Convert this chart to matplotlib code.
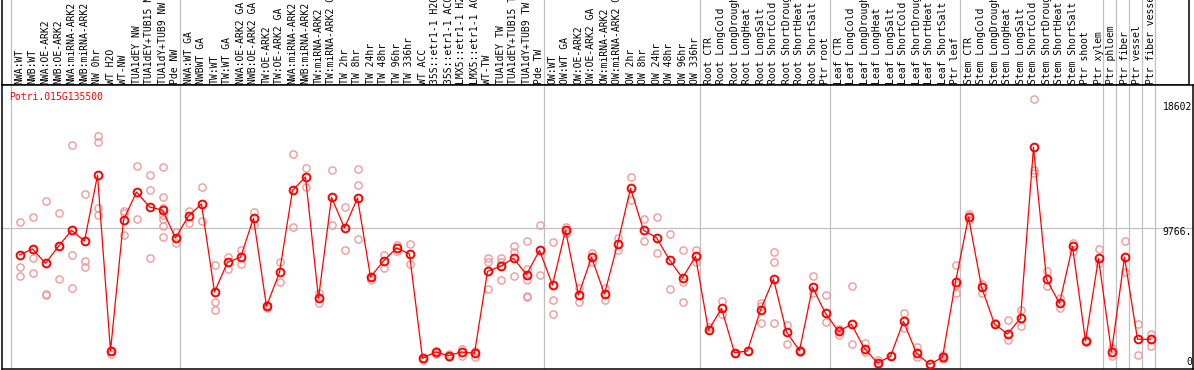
import numpy as np
import matplotlib
matplotlib.use("Agg")
import matplotlib.pyplot as plt

# sample labels, in drawing order
labels = [
    "NWA:WT", "NWB:WT", "NWA:OE-ARK2", "NWB:OE-ARK2", "NWA:miRNA-ARK2",
    "NWB:miRNA-ARK2", "NW 0hr", "WT H2O", "WT-NW", "TUA1dEY NW",
    "TUA1dEY+TUB15 NW", "TUA1dY+TUB9 NW", "Pde NW",
    "NWA:WT GA", "NWBWT GA", "TW:WT", "TW:WT GA", "NWA:OE-ARK2 GA",
    "NWB:OE-ARK2 GA", "TW:OE-ARK2", "TW:OE-ARK2 GA", "NWA:miRNA-ARK2",
    "NWB:miRNA-ARK2", "TW:miRNA-ARK2", "TW:miRNA-ARK2 GA", "TW 2hr", "TW 8hr",
    "TW 24hr", "TW 48hr", "TW 96hr", "TW 336hr", "WT ACC", "35S::etr1-1 H2O",
    "35S::etr1-1 ACC", "LMX5::etr1-1 H2O", "LMX5::etr1-1 ACC", "WT-TW",
    "TUA1dEY TW", "TUA1dEY+TUB15 TW", "TUA1dY+TUB9 TW", "Pde TW",
    "OW:WT", "OW:WT GA", "OW:OE-ARK2", "OW:OE-ARK2 GA", "OW:miRNA-ARK2",
    "OW:miRNA-ARK2 GA", "OW 2hr", "OW 8hr", "OW 24hr", "OW 48hr", "OW 96hr",
    "OW 336hr",
    "Root CTR", "Root LongCold", "Root LongDrought", "Root LongHeat",
    "Root LongSalt", "Root ShortCold", "Root ShortDrought", "Root ShortHeat",
    "Root ShortSalt", "Ptr root",
    "Leaf CTR", "Leaf LongCold", "Leaf LongDrought", "Leaf LongHeat",
    "Leaf LongSalt", "Leaf ShortCold", "Leaf ShortDrought", "Leaf ShortHeat",
    "Leaf ShortSalt", "Ptr leaf",
    "Stem CTR", "Stem LongCold", "Stem LongDrought", "Stem LongHeat",
    "Stem LongSalt", "Stem ShortCold", "Stem ShortDrought", "Stem ShortHeat",
    "Stem ShortSalt", "Ptr shoot",
    "Ptr xylem", "Ptr phloem", "Ptr fiber", "Ptr vessel", "Ptr fiber vessel",
]

# group mean expression
means = [
    7947, 8356, 7379, 8537, 9628, 8901, 13376, 1405, 10332, 12240,
    11218, 11013, 9105, 10605, 11422, 5425, 7447, 7788, 10446, 4449,
    6766, 12354, 13262, 4994, 11877, 9787, 11831, 6448, 7538, 8424,
    8015, 905, 1336, 1087, 1336, 1246, 6834, 7174, 7720, 6607,
    8265, 5902, 9628, 5221, 7788, 5289, 8674, 12490, 9628, 9128,
    7606, 6379, 7856, 2813, 4312, 1291, 1405, 4199, 6311, 2699,
    1427, 5743, 3972, 2745, 3222, 1564, 587, 1041, 3426, 1246,
    496, 973, 6107, 10536, 5766, 3245, 2563, 3631, 15284, 6289,
    4653, 8537, 2086, 7720, 1336, 7788, 2200, 2200,
]

# individual replicates
reps = [
    [10173, 7129, 6516], [10514, 7742, 6697], [11604, 5312, 5198],
    [10786, 6311, 8537], [15420, 7924, 5698], [12081, 7538, 7129],
    [16056, 15625, 11127, 10673], [1405, 1177], [10945, 10786, 9310],
    [14012, 10378], [13376, 12354, 7742],
    [13944, 11899, 11173, 10673, 10378, 9900, 9151],
    [9537, 8742], [10945, 10150], [12558, 10241], [7243, 4744, 4199],
    [7811, 7015], [8288, 7311], [10877, 9991], [4539, 4312], [7470, 6107],
    [14807, 9832], [13853, 12604], [5334, 4698], [13717, 9969],
    [11195, 8288], [13785, 12694, 9014], [6220, 6448], [7970, 7061],
    [8600, 8250], [8696, 7334], [769, 905], [1427, 1177], [1177, 996],
    [1564, 1087], [1427, 1018], [7720, 7493, 5607], [7720, 7493, 6266],
    [8537, 8129, 6516], [8901, 6970, 6266, 5130, 5085], [9991, 6561],
    [8833, 4857, 3903], [9878, 9423], [5721, 4721], [8106, 7493],
    [5721, 4857], [9105, 8310], [13240, 11672], [10378, 8878],
    [10514, 8083], [9378, 5630], [8288, 6130, 4721], [8288, 7447],
    [3040, 2813], [4789, 3949], [1246, 1291], [1405], [4653, 4494, 3313],
    [8151, 7470, 3313], [3176, 1882], [1500, 1360], [6516, 5334],
    [5221, 3358], [2881, 2495], [5834, 1882], [1973, 1359], [769, 496],
    [1087], [3972, 2949], [1677, 1018], [496], [1132, 860],
    [7243, 5902, 5334], [10718, 10332], [5993, 5334], [3313],
    [3495, 2154], [4199, 3086], [18602, 13739, 13512], [6856, 5811],
    [4994, 4312], [8787, 8219], [2154, 1996], [8356, 7379], [1586, 1087],
    [8901, 6766], [3222, 1109], [2563, 1768],
]

# first index of each sample group (vertical separators)
group_starts = [0, 13, 41, 53, 63, 73, 84, 85, 86, 87, 88]
y_ticks = [18602, 9766, 0]
y_tick_text = ["18602", "9766.", "0"]
gene = "Potri.015G135500"

W, H = 1194, 370
mono = "DejaVu Sans Mono"
grid_c = "#c0c0c0"
rep_c = "#ef9a9a"


def px2i(p):
    # pixel column -> sample index (13 px per sample, first at 19.5 px)
    return (p - 19.5) / 13.0


fig = plt.figure(figsize=(W / 100, H / 100), dpi=100)
ax_h = fig.add_axes([1.5 / W, (H - 85) / H, (1189 - 1.5) / W, 85 / H])
ax = fig.add_axes([1.5 / W, 1 / H, (1193 - 1.5) / W, 284 / H])

for a in (ax_h, ax):
    a.set_xticks([])
    a.set_yticks([])
    for s in a.spines.values():
        s.set_linewidth(1.1)
        s.set_color("black")
    for g in group_starts:
        a.axvline(g - 0.62, color=grid_c, lw=0.9, zorder=0)
ax_h.spines["top"].set_visible(False)

ax_h.set_xlim(px2i(1.5), px2i(1189))
ax_h.set_ylim(0, 1)
ax.set_xlim(px2i(1.5), px2i(1193))
ax.set_ylim(177, 19531)

# header labels, rotated, clipped at the top
for i, lab in enumerate(labels):
    ax_h.annotate(lab, (i, 0), xytext=(0, 1.5), textcoords="offset pixels",
                  rotation=90, ha="center", va="bottom", fontsize=7,
                  family=mono, annotation_clip=False, clip_on=True)

ax.axhline(y_ticks[1], color=grid_c, lw=0.9, zorder=0)

x = np.arange(len(means))
for i, r in enumerate(reps):
    ax.plot([i] * len(r), r, "o", ms=5.2, mfc="none", mec=rep_c, mew=1.0,
            zorder=2, clip_on=False)
ax.plot(x, means, "-", color="red", lw=0.9, zorder=3)
ax.plot(x, means, "o", ms=5.6, mfc="none", mec="red", mew=1.4, zorder=4)

ax.annotate(gene, (0, 1), xycoords="axes fraction", xytext=(8, -12),
            textcoords="offset pixels", ha="left", va="center",
            fontsize=7, family=mono, color="red")

offs = [-8, -4, 10]
for v, t, o in zip(y_ticks, y_tick_text, offs):
    ax.annotate(t, (1, v), xycoords=("axes fraction", "data"),
                xytext=(-1, o), textcoords="offset pixels", ha="right",
                va="center", fontsize=7, family=mono)

fig.savefig("out.png", dpi=100)
